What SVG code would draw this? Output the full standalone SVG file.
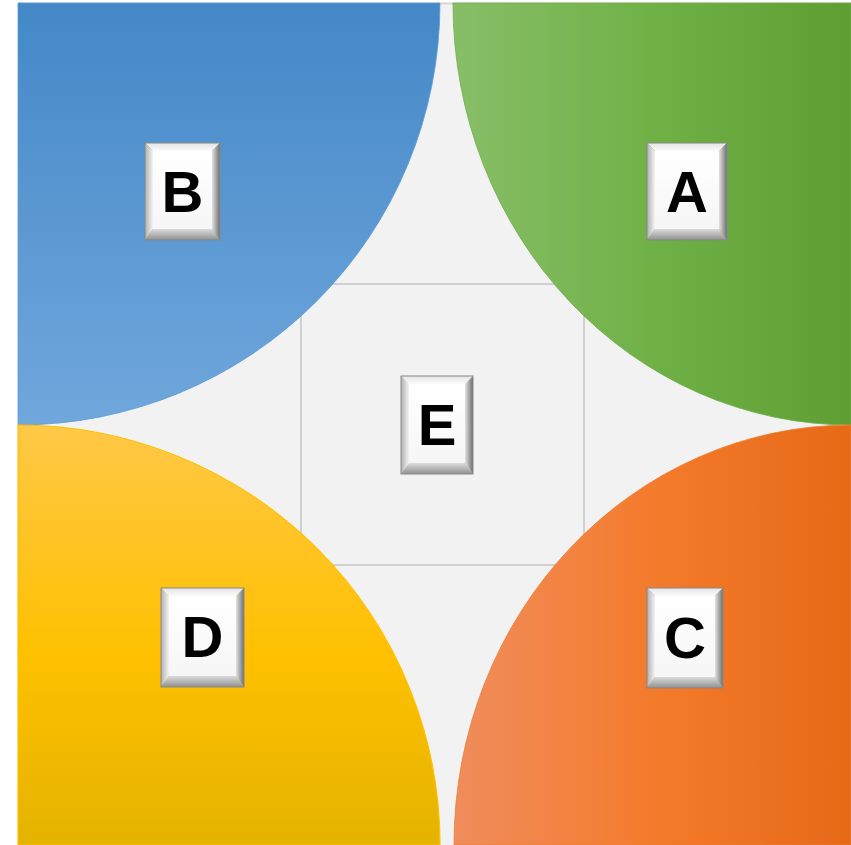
<svg xmlns="http://www.w3.org/2000/svg" width="851" height="845" viewBox="0 0 851 845">
<defs>
<linearGradient id="gBlue" x1="0" y1="0" x2="0" y2="1"><stop offset="0" stop-color="#4488c7"/><stop offset="1" stop-color="#70a7dc"/></linearGradient>
<linearGradient id="gGreen" x1="0" y1="0" x2="1" y2="0"><stop offset="0" stop-color="#88be68"/><stop offset="0.5" stop-color="#70b147"/><stop offset="1" stop-color="#5e9e33"/></linearGradient>
<linearGradient id="gYellow" x1="0" y1="0" x2="0" y2="1"><stop offset="0" stop-color="#ffc847"/><stop offset="0.55" stop-color="#ffc000"/><stop offset="1" stop-color="#e4b300"/></linearGradient>
<linearGradient id="gOrange" x1="0" y1="0" x2="1" y2="0"><stop offset="0" stop-color="#f08d5c"/><stop offset="0.5" stop-color="#f47b2c"/><stop offset="1" stop-color="#e66916"/></linearGradient>
<linearGradient id="bvLeft" x1="0" y1="0" x2="1" y2="0"><stop offset="0" stop-color="#b0b0b0"/><stop offset="1" stop-color="#f4f4f4"/></linearGradient>
<linearGradient id="bvRight" x1="0" y1="0" x2="1" y2="0"><stop offset="0" stop-color="#e2e2e2"/><stop offset="1" stop-color="#6e6e6e"/></linearGradient>
<linearGradient id="bvTop" x1="0" y1="0" x2="0" y2="1"><stop offset="0" stop-color="#e4e4e4"/><stop offset="1" stop-color="#fbfbfb"/></linearGradient>
<linearGradient id="bvBottom" x1="0" y1="0" x2="0" y2="1"><stop offset="0" stop-color="#dcdcdc"/><stop offset="1" stop-color="#909090"/></linearGradient>
<linearGradient id="bvFace" x1="0" y1="0" x2="0" y2="1"><stop offset="0" stop-color="#ffffff"/><stop offset="1" stop-color="#f6f6f6"/></linearGradient>
</defs>
<style>
.grid{fill:none;stroke:#d0d0d0;stroke-width:2}
.t{fill:url(#bvTop)}
.l{fill:url(#bvLeft)}
.r{fill:url(#bvRight)}
.b{fill:url(#bvBottom)}
.f{fill:url(#bvFace)}
.o{fill:none;stroke:#888888;stroke-width:1}
.lbl{font-family:"Liberation Sans",Arial,sans-serif;font-weight:bold;font-size:58px;fill:#000;text-anchor:middle}
</style>
<rect x="18" y="3" width="833" height="842" fill="#f2f2f2"/>
<line x1="18" y1="3.5" x2="851" y2="3.5" stroke="#d4d4d4" stroke-width="2"/>
<g id="connectors">
<rect class="grid" x="301" y="284" width="283" height="281"/>
</g>
<g id="quadB"><path d="M18,3 H440 A422 422 0 0 1 18 425 Z" fill="url(#gBlue)" stroke="#5b9bd5" stroke-width="0.8"/></g>
<g id="quadA"><path d="M851,3 H453 A398 422 0 0 0 851 425 Z" fill="url(#gGreen)" stroke="#70ad47" stroke-width="0.8"/></g>
<g id="quadC"><path d="M851,845 V425 A397 420 0 0 0 454 845 Z" fill="url(#gOrange)" stroke="#ed7d31" stroke-width="0.8"/></g>
<g id="quadD"><path d="M18,845 V425 A422 420 0 0 1 440 845 Z" fill="url(#gYellow)" stroke="#ffc000" stroke-width="1.2"/></g>
<g id="nodeB">
<polygon class="t" points="145,143 220,143 212,151 153,151"/>
<polygon class="l" points="145,143 153,151 153,229 145,240"/>
<polygon class="r" points="220,143 220,240 212,229 212,151"/>
<polygon class="b" points="145,240 153,229 212,229 220,240"/>
<rect class="f" x="153" y="151" width="59" height="78"/>
<rect class="o" x="145" y="143" width="75" height="97"/>
<text class="lbl" x="182.5" y="212">B</text>
</g>
<g id="nodeA">
<polygon class="t" points="647,143 727,143 719,151 655,151"/>
<polygon class="l" points="647,143 655,151 655,229 647,240"/>
<polygon class="r" points="727,143 727,240 719,229 719,151"/>
<polygon class="b" points="647,240 655,229 719,229 727,240"/>
<rect class="f" x="655" y="151" width="64" height="78"/>
<rect class="o" x="647" y="143" width="80" height="97"/>
<text class="lbl" x="687" y="212">A</text>
</g>
<g id="nodeE">
<polygon class="t" points="401,376 473,376 465,384 409,384"/>
<polygon class="l" points="401,376 409,384 409,463 401,474"/>
<polygon class="r" points="473,376 473,474 465,463 465,384"/>
<polygon class="b" points="401,474 409,463 465,463 473,474"/>
<rect class="f" x="409" y="384" width="56" height="79"/>
<rect class="o" x="401" y="376" width="72" height="98"/>
<text class="lbl" x="437" y="445">E</text>
</g>
<g id="nodeC">
<polygon class="t" points="647,588 723,588 715,596 655,596"/>
<polygon class="l" points="647,588 655,596 655,677 647,688"/>
<polygon class="r" points="723,588 723,688 715,677 715,596"/>
<polygon class="b" points="647,688 655,677 715,677 723,688"/>
<rect class="f" x="655" y="596" width="60" height="81"/>
<rect class="o" x="647" y="588" width="76" height="100"/>
<text class="lbl" x="685" y="658">C</text>
</g>
<g id="nodeD">
<polygon class="t" points="161,588 244,588 236,596 169,596"/>
<polygon class="l" points="161,588 169,596 169,676 161,687"/>
<polygon class="r" points="244,588 244,687 236,676 236,596"/>
<polygon class="b" points="161,687 169,676 236,676 244,687"/>
<rect class="f" x="169" y="596" width="67" height="80"/>
<rect class="o" x="161" y="588" width="83" height="99"/>
<text class="lbl" x="202.5" y="657">D</text>
</g>
</svg>
